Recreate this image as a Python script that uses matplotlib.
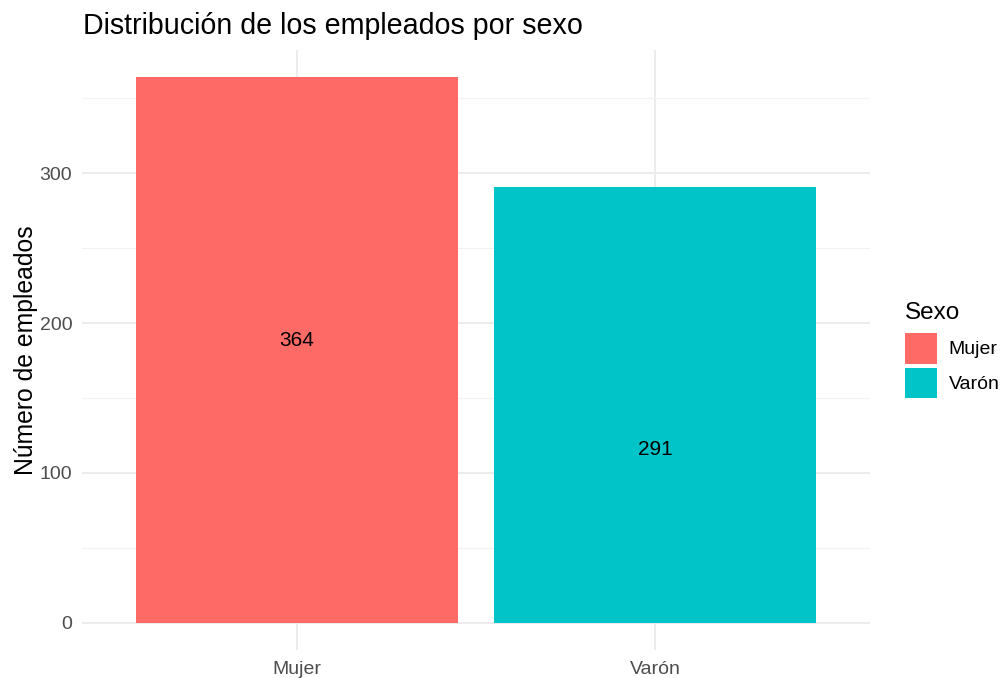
import numpy as np
import matplotlib
matplotlib.use('Agg')
import matplotlib.pyplot as plt
from matplotlib.ticker import MultipleLocator

plt.rcParams['font.family'] = ['Liberation Sans', 'DejaVu Sans']

sexos = ['Mujer', 'Varón']
empleados = [364, 291]
colores = ['#FE6A65', '#00C4C7']

W, H = 1005, 678
fig = plt.figure(figsize=(W / 100, H / 100), dpi=100)
ax = fig.add_axes([82 / W, 1 - 650 / H, (870 - 82) / W, (650 - 50) / H])

x = np.arange(1, len(sexos) + 1)
barras = ax.bar(x, empleados, width=0.9, color=colores, label=sexos, zorder=2)

# etiquetas dentro de cada barra, a distancia fija del borde superior
for xi, n in zip(x, empleados):
    ax.text(xi, n - 175.5, str(n), ha='center', va='center',
            fontsize=15, color='black', zorder=3)

ymax = max(empleados)
ax.set_xlim(0.4, len(sexos) + 0.6)
ax.set_ylim(-0.05 * ymax, 1.05 * ymax)
ax.set_xticks(x)
ax.set_xticklabels(sexos)
ax.yaxis.set_major_locator(MultipleLocator(100))
ax.yaxis.set_minor_locator(MultipleLocator(50))

ax.grid(which='major', color='#EBEBEB', linewidth=1.3, zorder=0)
ax.grid(which='minor', axis='y', color='#F2F2F2', linewidth=0.8, zorder=0)
ax.tick_params(which='both', length=0, labelsize=14, labelcolor='#4D4D4D')
ax.tick_params(axis='y', pad=7)
ax.tick_params(axis='x', pad=8)
for s in ax.spines.values():
    s.set_visible(False)

ax.set_ylabel('Número de empleados', fontsize=17.8, labelpad=1.5)

fig.text(83 / W, 1 - 34 / H, 'Distribución de los empleados por sexo',
         fontsize=20.6, ha='left', va='baseline')

# leyenda: título aparte para dejar más aire sobre las claves
fig.text(905 / W, 1 - 319 / H, 'Sexo', fontsize=17.5, ha='left', va='baseline')
leg = fig.legend(handles=barras, labels=sexos,
                 loc='upper left', bbox_to_anchor=(905 / W, 1 - 333 / H),
                 frameon=False, fontsize=14, borderpad=0,
                 handlelength=1.65, handleheight=2.05, labelspacing=0.2,
                 handletextpad=0.6, borderaxespad=0)

fig.savefig('out.png', dpi=100)
